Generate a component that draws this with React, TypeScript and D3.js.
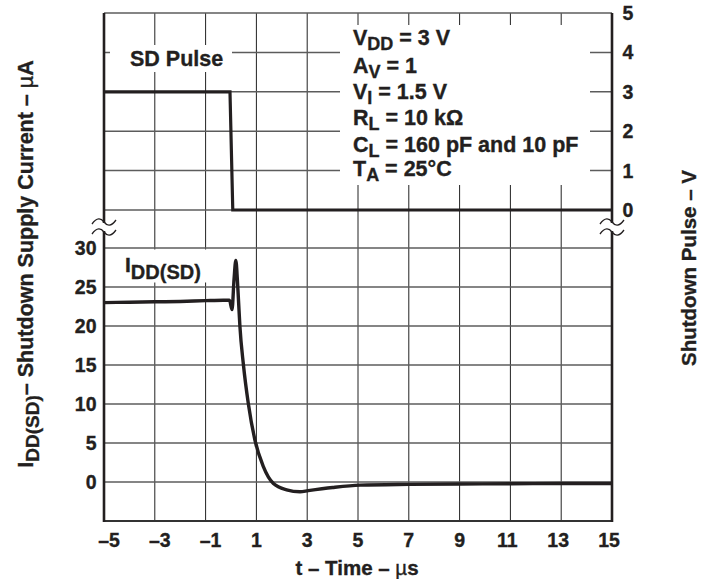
import React from 'react'
import * as d3 from 'd3'

// time axis (µs)
const timeTicks = [-5, -3, -1, 1, 3, 5, 7, 9, 11, 13, 15]
// lower panel: shutdown supply current (µA)
const currentTicks = [30, 25, 20, 15, 10, 5, 0]
// upper panel: shutdown pulse (V)
const pulseTicks = [5, 4, 3, 2, 1, 0]

// SD pulse trace
const pulseT = [-5, -0.04, 0.07, 15]
const pulseV = [3, 3, 0, 0]

// IDD(SD) trace
const currentT = [-5, -4, -3, -2, -1, -0.3, -0.06, 0.04, 0.12, 0.19, 0.25, 0.3, 0.35, 0.49, 0.68, 0.94, 1.27, 1.67, 2.19, 2.72, 3.04, 4, 5.08, 7, 9, 11, 13, 15]
const currentI = [23.0, 23.05, 23.1, 23.15, 23.25, 23.3, 23.3, 22.1, 26.0, 28.4, 26.0, 23.0, 20.0, 15.0, 10.1, 5.4, 2.0, -0.2, -1.0, -1.25, -1.1, -0.7, -0.4, -0.3, -0.25, -0.22, -0.2, -0.2]

const conditions = [
  { main: 'V', sub: 'DD', rest: ' = 3 V' },
  { main: 'A', sub: 'V', rest: ' = 1' },
  { main: 'V', sub: 'I', rest: ' = 1.5 V' },
  { main: 'R', sub: 'L', rest: ' = 10 kΩ' },
  { main: 'C', sub: 'L', rest: ' = 160 pF and 10 pF' },
  { main: 'T', sub: 'A', rest: ' = 25°C' },
]
const conditionBaselines = [45, 72.5, 98.5, 125, 151.5, 175.5]

const W = 706
const H = 579
const left = 104
const right = 612
const top = 13
const bottom = 521
const font = '"Liberation Sans", Arial, Helvetica, sans-serif'
const ink = '#231f20'

const App = () => {
  const x = d3.scaleLinear().domain([-5, 15]).range([left, right])
  const yI = d3.scaleLinear().domain([-5, 30]).range([bottom, 248])
  const yP = d3.scaleLinear().domain([0, 5]).range([210, top])

  const currentLine = d3
    .line<number>()
    .x((d, i) => x(currentT[i]))
    .y((d) => yI(d))
    .curve(d3.curveMonotoneX)
  const pulseLine = d3
    .line<number>()
    .x((d, i) => x(pulseT[i]))
    .y((d) => yP(d))

  const tilde = (cx: number, cy: number) =>
    `M${cx - 12},${cy + 2} C${cx - 7},${cy - 5} ${cx - 3},${cy - 4} ${cx},${cy} S${cx + 7},${cy + 5} ${cx + 12},${cy - 2}`

  const xLabelDx = (t: number) => (t < 0 ? 5 : t >= 10 ? -3 : 0)

  // slight outline makes the bold face as heavy as the scan
  const heavy = { fill: ink, stroke: ink, strokeWidth: 0.35 }

  return (
    <svg width={W} height={H} style={{ position: 'absolute', left: 0, top: 0, background: '#fff' }} fontFamily={font} fontWeight="bold">
      {/* vertical grid */}
      {timeTicks.slice(1, -1).map((t) => (
        <line key={'v' + t} x1={x(t)} x2={x(t)} y1={top} y2={bottom} stroke="#222" strokeWidth={1} />
      ))}
      {/* horizontal grid, upper panel */}
      {pulseTicks.map((v) => (
        <line key={'hp' + v} x1={left} x2={right} y1={yP(v)} y2={yP(v)} stroke="#5c5c5c" strokeWidth={1.5} />
      ))}
      {/* horizontal grid, lower panel */}
      {currentTicks.map((v) => (
        <line key={'hi' + v} x1={left} x2={right} y1={yI(v)} y2={yI(v)} stroke="#5c5c5c" strokeWidth={1.5} />
      ))}

      {/* label backgrounds */}
      <rect x={340} y={25} width={250} height={160} fill="#fff" />
      <rect x={110} y={45} width={122} height={27} fill="#fff" />
      <rect x={121} y={249.5} width={90} height={33} fill="#fff" />

      {/* axes */}
      <line x1={left} x2={right} y1={bottom} y2={bottom} stroke="#333" strokeWidth={2} />
      <line x1={left} x2={left} y1={top} y2={bottom + 1} stroke={ink} strokeWidth={2.6} />
      <line x1={right} x2={right} y1={top} y2={bottom + 1} stroke={ink} strokeWidth={2.6} />

      {/* traces */}
      <path d={pulseLine(pulseV) || ''} fill="none" stroke={ink} strokeWidth={3.2} />
      <path d={currentLine(currentI) || ''} fill="none" stroke={ink} strokeWidth={3.4} strokeLinejoin="round" />

      {/* axis breaks */}
      {[left, right].map((cx) => (
        <g key={'br' + cx}>
          <rect x={cx - 3} y={223} width={6} height={8} fill="#fff" />
          <path d={tilde(cx, 222)} fill="none" stroke={ink} strokeWidth={1.3} />
          <path d={tilde(cx, 232)} fill="none" stroke={ink} strokeWidth={1.3} />
        </g>
      ))}

      {/* tick labels */}
      {currentTicks.map((v) => (
        <text key={'li' + v} x={96.5} y={yI(v) + 7} fontSize={19.5} textAnchor="end" {...heavy}>
          {v}
        </text>
      ))}
      {pulseTicks.map((v) => (
        <text key={'rp' + v} x={622.5} y={yP(v) + 7} fontSize={19.5} textAnchor="start" {...heavy}>
          {v}
        </text>
      ))}
      {timeTicks.map((t) => (
        <text key={'xt' + t} x={x(t) + xLabelDx(t)} y={546.5} fontSize={19.5} textAnchor="middle" {...heavy}>
          {t < 0 ? '–' + Math.abs(t) : t}
        </text>
      ))}

      {/* axis titles */}
      <text x={357} y={575} fontSize={20.5} textAnchor="middle" {...heavy}>
        t – Time – <tspan fontWeight="normal">µ</tspan>s
      </text>
      <text transform="translate(33,264) rotate(-90)" fontSize={21.5} textAnchor="middle" {...heavy}>
        I<tspan fontSize={19} dy={6}>DD(SD)</tspan>
        <tspan dy={-6}>– Shutdown Supply Current – </tspan>
        <tspan fontWeight="normal">µ</tspan>A
      </text>
      <text transform="translate(696,268) rotate(-90)" fontSize={20.5} textAnchor="middle" {...heavy}>
        Shutdown Pulse – V
      </text>

      {/* in-plot labels */}
      <text x={130} y={66} fontSize={21.5} {...heavy}>
        SD Pulse
      </text>
      <text x={125} y={272} fontSize={21} {...heavy}>
        I<tspan fontSize={20} dy={7}>DD(SD)</tspan>
      </text>
      {conditions.map((c, i) => (
        <text key={'c' + i} x={353} y={conditionBaselines[i]} fontSize={21.5} {...heavy}>
          {c.main}
          <tspan fontSize={18} dy={5}>
            {c.sub}
          </tspan>
          <tspan dy={-5}>{c.rest}</tspan>
        </text>
      ))}
    </svg>
  )
}

export default App
